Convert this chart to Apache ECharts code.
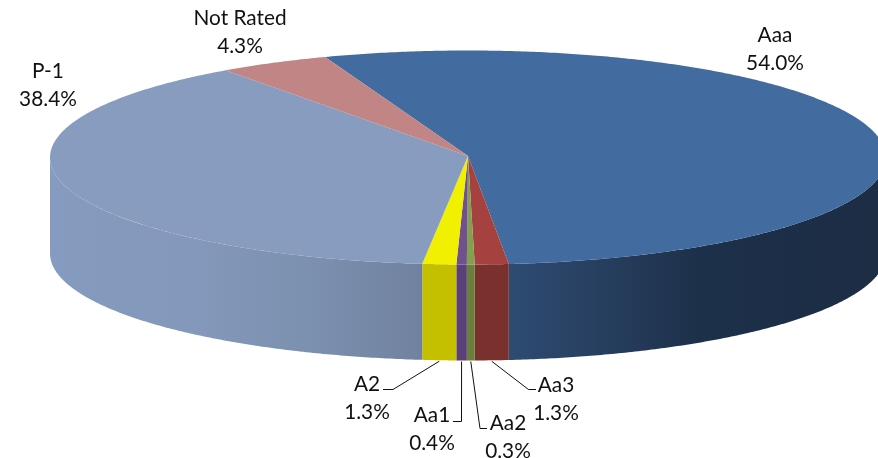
<!DOCTYPE html>
<html>
<head>
<meta charset="utf-8">
<title>Ratings</title>
<script src="https://cdn.jsdelivr.net/npm/echarts@6/dist/echarts.min.js"></script>
<style>
html, body { margin: 0; padding: 0; background: #fff; }
#main { width: 878px; height: 458px; }
</style>
</head>
<body>
<div id="main"></div>
<script>
var ratings = ['Aaa', 'Aa3', 'Aa2', 'Aa1', 'A2', 'P-1', 'Not Rated'];
var shares = [54.0, 1.3, 0.3, 0.4, 1.3, 38.4, 4.3];

// pie drawn as a tilted disc: top ellipse + front wall
var cx = 468, cy = 157.5, rx = 418, ry = 107, depth = 96;
var apexX = 468, apexY = 156;
var startAngle = -20; // clockwise from the back of the disc

var topColors = ['#426c9f', '#a5423f', '#84a04e', '#70508f', '#f0f000', '#879cbf', '#c08584'];
var wallColors = [
    [[510, '#2e4b72'], [600, '#273f5f'], [700, '#1d304a'], [878, '#1c2d44']],
    '#7a302c', '#6a7f3e', '#5a4078', '#c4c000',
    [[50, '#859bbf'], [200, '#8398ba'], [320, '#7b8fae'], [420, '#70829f']],
    '#c08584'
];

// label anchor (centre of first line) and leader elbow points
var labelPos = [
    { x: 775, y: 34 },
    { x: 556, y: 384, line: [[528.5, 389.5], [536, 389.5]] },
    { x: 508, y: 422, line: [[480, 428.5], [487, 428.5]] },
    { x: 432, y: 414, line: [[461.5, 421.5], [453, 421.5]] },
    { x: 367, y: 383, line: [[393, 389.5], [383, 389.5]] },
    { x: 48, y: 70 },
    { x: 240, y: 17 }
];

function rim(deg, dy) {
    var a = deg * Math.PI / 180;
    return [cx + rx * Math.sin(a), cy - ry * Math.cos(a) + (dy || 0)];
}

function arcPoints(from, to, dy) {
    var pts = [];
    var n = Math.max(2, Math.ceil(Math.abs(to - from) / 0.5));
    for (var i = 0; i <= n; i++) {
        pts.push(rim(from + (to - from) * i / n, dy));
    }
    return pts;
}

function sliceRange(index) {
    var before = 0;
    for (var i = 0; i < index; i++) before += shares[i];
    var from = startAngle + before * 3.6;
    return [from, from + shares[index] * 3.6];
}

function wallFill(c) {
    if (typeof c === 'string') return c;
    var x0 = c[0][0], x1 = c[c.length - 1][0];
    var stops = c.map(function (s) {
        return { offset: (s[0] - x0) / (x1 - x0), color: s[1] };
    });
    return new echarts.graphic.LinearGradient(x0, 0, x1, 0, stops, true);
}

function renderSlice(params, api) {
    var i = params.dataIndex;
    var share = api.value(0);
    var r = sliceRange(i);
    var from = r[0], to = from + share * 3.6;
    var children = [];

    // only the part facing the viewer (90..270 deg) has a wall
    var wFrom = Math.max(from, 90), wTo = Math.min(to, 270);
    if (wTo > wFrom) {
        children.push({
            type: 'polygon',
            shape: { points: arcPoints(wFrom, wTo, 0).concat(arcPoints(wTo, wFrom, depth)) },
            style: { fill: wallFill(wallColors[i]), stroke: null }
        });
    }
    children.push({
        type: 'polygon',
        shape: { points: [[apexX, apexY]].concat(arcPoints(from, to, 0)) },
        style: { fill: topColors[i], stroke: null }
    });
    return { type: 'group', children: children };
}

var graphics = [];
ratings.forEach(function (name, i) {
    var p = labelPos[i];
    var r = sliceRange(i);
    if (p.line) {
        var start = rim((r[0] + r[1]) / 2, depth + 1);
        graphics.push({
            type: 'polyline',
            silent: true,
            shape: { points: [start].concat(p.line) },
            style: { stroke: '#111', lineWidth: 1, fill: null }
        });
    }
    graphics.push({
        type: 'text',
        silent: true,
        x: p.x,
        y: p.y - 12.5,
        style: {
            text: name + '\n' + shares[i].toFixed(1) + '%',
            font: '20.8px Lato',
            lineHeight: 28,
            fill: '#111',
            align: 'center',
            verticalAlign: 'top'
        }
    });
});

var myChart = echarts.init(document.getElementById('main'));
myChart.setOption({
    animation: false,
    series: [{
        type: 'custom',
        coordinateSystem: 'none',
        silent: true,
        renderItem: renderSlice,
        data: shares.map(function (v) { return [v]; })
    }],
    graphic: graphics
});
</script>
</body>
</html>
